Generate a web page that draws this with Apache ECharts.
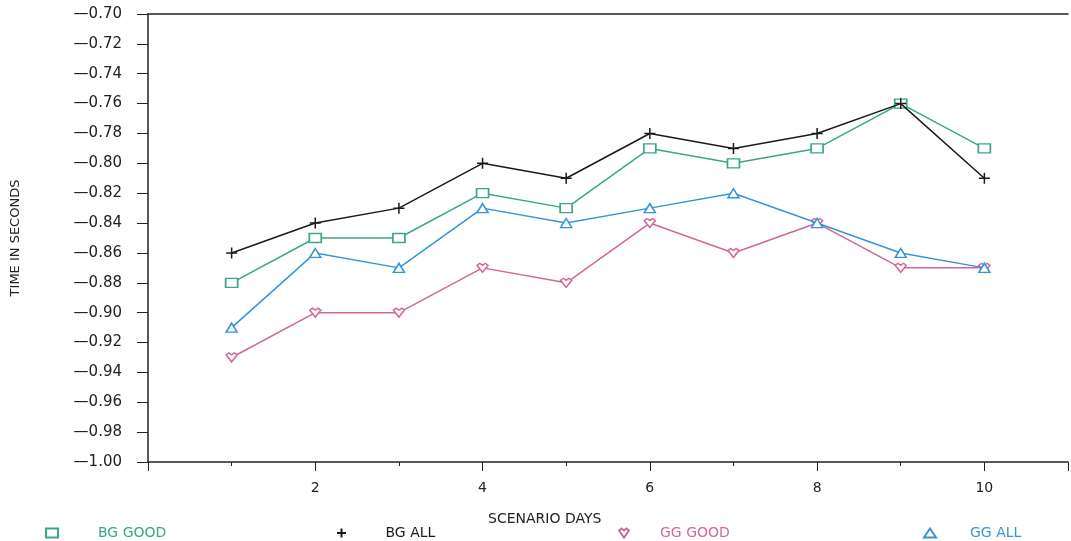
<!DOCTYPE html>
<html>
<head>
<meta charset="utf-8">
<script src="https://cdn.jsdelivr.net/npm/echarts@6/dist/echarts.min.js"></script>
<style>
    html, body { margin: 0; padding: 0; background: #fff; }
    #main { width: 1071px; height: 541px; }
</style>
</head>
<body>
<div id="main"></div>
<script>
// scenario days
const days = [1, 2, 3, 4, 5, 6, 7, 8, 9, 10];

// time in seconds
const bgGood = [-0.88, -0.85, -0.85, -0.82, -0.83, -0.79, -0.80, -0.79, -0.76, -0.79];
const bgAll  = [-0.86, -0.84, -0.83, -0.80, -0.81, -0.78, -0.79, -0.78, -0.76, -0.81];
const ggGood = [-0.93, -0.90, -0.90, -0.87, -0.88, -0.84, -0.86, -0.84, -0.87, -0.87];
const ggAll  = [-0.91, -0.86, -0.87, -0.83, -0.84, -0.83, -0.82, -0.84, -0.86, -0.87];

const seriesNames = ['BG GOOD', 'BG ALL', 'GG GOOD', 'GG ALL'];
const seriesColors = ['#3aa68a', '#1a1a1a', '#d0679b', '#3596d6'];

const plusIcon = 'path://M0,5L10,5M5,0L5,10';
const heartIcon = 'path://M0,2L2.5,0L5,2L7.5,0L10,2L5,9Z';
const symbols = ['rect', plusIcon, heartIcon, 'triangle'];
const symbolSizes = [[12, 9], [11, 11], [11, 9], [11, 9]];

const font = 'DejaVu Sans';

const toPairs = vals => vals.map((v, i) => [days[i], v]);

const makeSeries = (name, vals, i) => ({
    name: name,
    type: 'line',
    data: toPairs(vals),
    symbol: symbols[i],
    symbolSize: symbolSizes[i],
    showAllSymbol: true,
    lineStyle: { color: seriesColors[i], width: 1.5 },
    itemStyle: { color: '#fff', borderColor: seriesColors[i], borderWidth: 1.5 },
    emphasis: { disabled: true },
    z: 3 + i
});

// legend: one small block per series, icon then text far to the right
const legendLeft = [40, 331, 613, 918];
const legendPad = [35, 33, 25, 29];
const legends = seriesNames.map((n, i) => ({
    left: legendLeft[i],
    top: 521,
    itemWidth: 12,
    itemHeight: 9,
    selectedMode: false,
    data: [{ name: n, icon: symbols[i], textStyle: { color: seriesColors[i] } }],
    textStyle: { fontFamily: font, fontSize: 14, padding: [0, 0, 0, legendPad[i]] }
}));

const chart = echarts.init(document.getElementById('main'));
chart.setOption({
    animation: false,
    backgroundColor: '#fff',
    title: {
        text: 'SCENARIO DAYS',
        left: 483,
        top: 507,
        textStyle: { fontFamily: font, fontSize: 14, fontWeight: 'normal', color: '#222' }
    },
    legend: legends,
    grid: { left: 148, right: 0, top: 14, bottom: 79 },
    xAxis: [
        {
            type: 'value',
            min: 0,
            max: 11,
            interval: 2,
            axisLine: { show: true, lineStyle: { color: '#222', width: 1.5 } },
            axisTick: { show: true, length: 9, lineStyle: { color: '#222' } },
            minorTick: { show: true, splitNumber: 2, length: 4, lineStyle: { color: '#222' } },
            splitLine: { show: false },
            axisLabel: {
                margin: 19,
                fontFamily: font,
                fontSize: 14,
                color: '#222',
                formatter: v => (v > 0 && v <= 10 ? String(v) : '')
            }
        },
        {
            type: 'value',
            position: 'top',
            min: 0,
            max: 11,
            axisLine: { show: true, lineStyle: { color: '#222', width: 1.5 } },
            axisTick: { show: false },
            axisLabel: { show: false },
            splitLine: { show: false }
        }
    ],
    yAxis: {
        type: 'value',
        min: -1,
        max: -0.7,
        interval: 0.02,
        name: 'TIME IN SECONDS',
        nameLocation: 'middle',
        nameRotate: 90,
        nameGap: 126,
        nameTextStyle: { fontFamily: font, fontSize: 13, color: '#222' },
        axisLine: { show: true, lineStyle: { color: '#222', width: 1.5 } },
        axisTick: { show: true, length: 11, lineStyle: { color: '#222' } },
        splitLine: { show: false },
        axisLabel: {
            margin: 26,
            fontFamily: font,
            fontSize: 15,
            color: '#222',
            formatter: v => '\u2014' + Math.abs(v).toFixed(2)
        }
    },
    series: [
        makeSeries(seriesNames[0], bgGood, 0),
        makeSeries(seriesNames[1], bgAll, 1),
        makeSeries(seriesNames[2], ggGood, 2),
        makeSeries(seriesNames[3], ggAll, 3)
    ]
});
</script>
</body>
</html>
